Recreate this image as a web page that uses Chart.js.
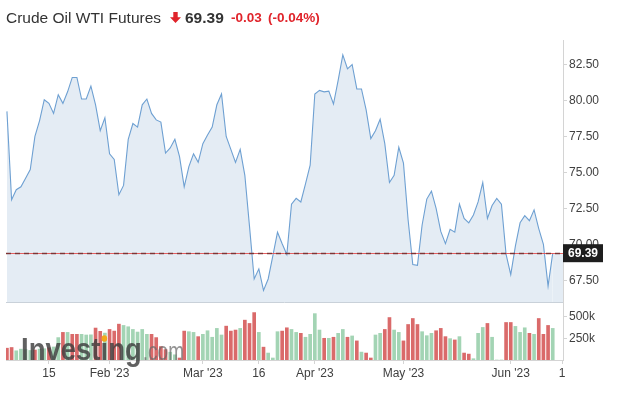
<!DOCTYPE html>
<html>
<head>
<meta charset="utf-8">
<script src="https://cdn.jsdelivr.net/npm/chart.js@4.4.0/dist/chart.umd.min.js"></script>
<style>
html,body{margin:0;padding:0;background:#fff;}
#wrap{position:relative;width:622px;height:396px;overflow:hidden;font-family:"Liberation Sans",Arial,sans-serif;}
#c{position:absolute;left:0;top:0;}
.t{position:absolute;white-space:nowrap;line-height:16px;top:10px;}
</style>
</head>
<body>
<div id="wrap">
<canvas id="c" width="622" height="396"></canvas>
<span class="t" style="left:6px;font-size:15.5px;color:#333;">Crude Oil WTI Futures</span>
<svg style="position:absolute;left:170px;top:12px;" width="11" height="11" viewBox="0 0 11 11"><path d="M3.3 0H7.7V5.2H11L5.5 11L0 5.2H3.3Z" fill="#e0242b"/></svg>
<span class="t" style="left:185px;font-size:15.5px;font-weight:bold;color:#333;">69.39</span>
<span class="t" style="left:231px;font-size:13.5px;font-weight:bold;color:#e0242b;">-0.03</span>
<span class="t" style="left:268px;font-size:13.5px;font-weight:bold;color:#e0242b;">(-0.04%)</span>
</div>
<script>
// ---- data ----
const prices = [79.24, 73.1, 73.8, 74.0, 74.6, 75.2, 77.5, 78.6, 80.05, 79.8,
  79.1, 80.4, 79.8, 80.6, 81.6, 81.6, 80.1, 80.1, 81.0, 79.7,
  77.9, 78.8, 76.3, 75.9, 73.45, 74.1, 77.3, 78.4, 78.15, 79.7,
  80.1, 79.1, 78.65, 78.5, 76.35, 76.7, 77.3, 76.1, 74.0, 75.4,
  76.3, 75.7, 77.0, 77.6, 78.15, 79.7, 80.45, 77.5, 76.6, 75.7,
  76.6, 74.8, 71.25, 67.6, 68.3, 66.8, 67.6, 69.2, 70.85, 70.05,
  69.3, 72.8, 73.2, 72.95, 74.2, 75.5, 80.45, 80.7, 80.6, 80.65,
  79.75, 81.4, 83.17, 82.2, 82.5, 80.8, 80.8, 79.35, 77.35, 77.9,
  78.7, 77.0, 74.3, 74.8, 76.75, 75.65, 71.7, 68.6, 68.55, 71.35,
  73.15, 73.7, 72.5, 70.9, 70.05, 71.05, 70.85, 72.8, 71.8, 71.5,
  72.05, 72.95, 74.3, 71.8, 72.7, 73.2, 72.8, 69.3, 67.9, 69.9,
  71.5, 72.0, 71.65, 72.4, 71.1, 70.0, 67.1, 69.39];

// volume in thousands
const volumes = [136, 144, 106, 125, 120, 110, 115, 125, 130, 140,
  150, 258, 318, 318, 296, 296, 296, 288, 290, 368,
  330, 310, 352, 333, 413, 398, 383, 352, 322, 352,
  296, 296, 258, 155, 120, 90, 60, 23, 333, 326,
  318, 269, 296, 337, 262, 364, 288, 390, 333, 345,
  364, 459, 421, 546, 318, 148, 80, 23, 326, 333,
  371, 352, 318, 307, 262, 296, 534, 345, 250, 250,
  262, 307, 352, 262, 277, 220, 91, 80, 23, 288,
  307, 352, 489, 345, 318, 220, 409, 478, 409, 326,
  280, 307, 337, 364, 269, 246, 231, 269, 80, 68,
  15, 307, 375, 421, 262, 0, 0, 432, 432, 387,
  318, 371, 307, 296, 478, 296, 398, 364];

// 1 = up day (green bar), 0 = down day (red bar)
const volUp = [0, 0, 1, 1, 1, 1, 0, 1, 1, 0,
  1, 1, 0, 1, 0, 0, 1, 1, 1, 0,
  0, 1, 0, 0, 0, 1, 1, 1, 1, 1,
  1, 0, 0, 0, 0, 1, 1, 0, 0, 1,
  1, 0, 1, 1, 1, 1, 1, 0, 0, 0,
  1, 0, 0, 0, 1, 0, 1, 1, 1, 0,
  0, 1, 1, 0, 1, 1, 1, 1, 0, 1,
  0, 1, 1, 0, 1, 0, 1, 0, 0, 1,
  1, 0, 0, 1, 1, 0, 0, 0, 0, 1,
  1, 1, 0, 0, 0, 1, 0, 1, 0, 0,
  1, 1, 1, 0, 1, 1, 1, 0, 0, 1,
  1, 1, 0, 1, 0, 0, 0, 1];

const tickIdx = [9, 22, 42, 54, 66, 85, 108, 119];
const tickText = ['15', "Feb '23", "Mar '23", '16', "Apr '23", "May '23", "Jun '23", '1'];
const priceTicks = [67.5, 70, 72.5, 75, 77.5, 80, 82.5];
const volTicks = [250, 500];
const lastPrice = 69.39;

// ---- styles ----
const LINE = '#6ea0d2';
const FILL = '#e4ecf4';
const RED = '#da6a6a';
const GREEN = '#a3d4b4';
const AXIS = '#d4d4d4';
const TXT = '#404040';
const FONT = '"Liberation Sans", Arial, sans-serif';

const overlay = {
  id: 'overlay',
  beforeDatasetsDraw(chart) {
    // area continues flat to the right edge after the last point
    const ctx = chart.ctx;
    const a = chart.chartArea;
    const ys = chart.scales.y;
    const xs = chart.scales.x;
    const x0 = xs.getPixelForValue(prices.length - 1);
    const y0 = ys.getPixelForValue(prices[prices.length - 1]);
    ctx.save();
    ctx.fillStyle = FILL;
    ctx.fillRect(x0, y0, a.right - x0, ys.bottom - y0);
    ctx.restore();
  },
  afterDatasetsDraw(chart) {
    const ctx = chart.ctx;
    const a = chart.chartArea;
    const ys = chart.scales.y;
    ctx.save();
    ctx.strokeStyle = '#c9d1d9';
    ctx.lineWidth = 1;
    const sepY = Math.round(ys.bottom) + 0.5;
    ctx.beginPath(); ctx.moveTo(a.left, sepY); ctx.lineTo(a.right, sepY); ctx.stroke();

    // watermark
    const base = 359.5;
    ctx.font = 'bold 32px ' + FONT;
    ctx.textBaseline = 'alphabetic';
    const wAll = ctx.measureText('Investing').width;
    ctx.save();
    ctx.translate(21, base);
    ctx.scale(0.86, 1);
    ctx.fillStyle = 'rgba(62,62,62,0.82)';
    ctx.fillText('Investing', 0, 0);
    const wPre = ctx.measureText('Invest').width;
    const wi = ctx.measureText('i').width;
    ctx.fillStyle = '#f2a71b';
    ctx.beginPath();
    ctx.arc(wPre + wi / 2, -21, 3.2, 0, Math.PI * 2);
    ctx.fill();
    ctx.restore();
    ctx.save();
    ctx.translate(21 + 0.86 * wAll + 1, base);
    ctx.scale(0.76, 1);
    ctx.font = '25px ' + FONT;
    ctx.fillStyle = 'rgba(105,105,105,0.72)';
    ctx.fillText('.com', 0, 0);
    ctx.restore();

    // last price line
    const py = Math.round(ys.getPixelForValue(lastPrice)) + 0.5;
    ctx.strokeStyle = 'rgba(226,80,80,0.9)';
    ctx.lineWidth = 1;
    ctx.beginPath(); ctx.moveTo(a.left, py); ctx.lineTo(a.right, py); ctx.stroke();
    ctx.setLineDash([5, 4]);
    ctx.strokeStyle = 'rgba(110,45,45,0.85)';
    ctx.lineWidth = 1.3;
    ctx.beginPath(); ctx.moveTo(a.left, py); ctx.lineTo(a.right, py); ctx.stroke();
    ctx.restore();
  },
  afterDraw(chart) {
    const ctx = chart.ctx;
    const a = chart.chartArea;
    const ys = chart.scales.y;
    const py = ys.getPixelForValue(lastPrice);
    ctx.save();
    ctx.fillStyle = '#1e1e1e';
    ctx.fillRect(a.right, py - 9, 40, 18);
    ctx.fillStyle = '#ffffff';
    ctx.font = 'bold 12px ' + FONT;
    ctx.textBaseline = 'middle';
    ctx.textAlign = 'left';
    ctx.fillText(lastPrice.toFixed(2), a.right + 5, py + 0.5);
    ctx.restore();
  }
};

const idx = prices.map((_, i) => i);

new Chart(document.getElementById('c'), {
  data: {
    datasets: [
      {
        type: 'line',
        data: idx.map(i => ({x: i, y: prices[i]})),
        yAxisID: 'y',
        xAxisID: 'x',
        borderColor: LINE,
        borderWidth: 1.1,
        backgroundColor: FILL,
        fill: 'start',
        pointRadius: 0,
        tension: 0,
        order: 1
      },
      {
        type: 'bar',
        data: idx.map(i => ({x: i, y: volumes[i]})),
        yAxisID: 'yv',
        xAxisID: 'x',
        backgroundColor: idx.map(i => volUp[i] ? GREEN : RED),
        barThickness: 3,
        order: 2
      }
    ]
  },
  options: {
    responsive: false,
    animation: false,
    events: [],
    layout: {padding: {top: 40, left: 6, right: 0, bottom: 0}},
    plugins: {legend: {display: false}, tooltip: {enabled: false}},
    scales: {
      x: {
        type: 'linear',
        offset: false,
        min: -0.2,
        max: 119.2,
        afterBuildTicks: ax => { ax.ticks = tickIdx.map(v => ({value: v})); },
        afterFit: ax => { ax.height = 36; },
        ticks: {
          autoSkip: false, maxRotation: 0, padding: 2,
          color: TXT, font: {family: FONT, size: 12},
          callback: v => tickText[tickIdx.indexOf(v)]
        },
        grid: {offset: false, drawOnChartArea: false, drawTicks: true, tickLength: 4, color: AXIS},
        border: {display: true, color: AXIS}
      },
      y: {
        type: 'linear',
        position: 'right',
        stack: 'main',
        stackWeight: 262,
        min: 66.0,
        max: 84.2,
        afterBuildTicks: ax => { ax.ticks = priceTicks.map(v => ({value: v})); },
        afterFit: ax => { ax.width = 59; },
        ticks: {
          padding: 2, color: TXT, font: {family: FONT, size: 12},
          callback: v => v.toFixed(2)
        },
        grid: {drawOnChartArea: false, drawTicks: true, tickLength: 4, color: AXIS},
        border: {display: true, color: AXIS}
      },
      yv: {
        type: 'linear',
        position: 'right',
        stack: 'main',
        stackWeight: 58,
        min: 0,
        max: 668,
        afterBuildTicks: ax => { ax.ticks = volTicks.map(v => ({value: v})); },
        afterFit: ax => { ax.width = 59; },
        ticks: {
          padding: 2, color: TXT, font: {family: FONT, size: 12},
          callback: v => v + 'k'
        },
        grid: {drawOnChartArea: false, drawTicks: true, tickLength: 4, color: AXIS},
        border: {display: true, color: AXIS}
      }
    }
  },
  plugins: [overlay]
});
</script>
</body>
</html>
